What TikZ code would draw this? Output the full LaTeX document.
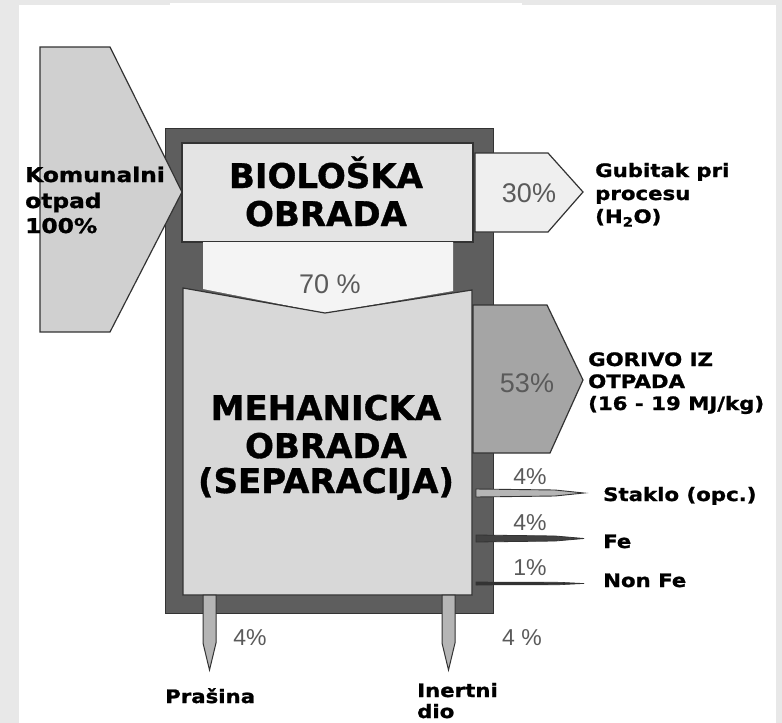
\documentclass[tikz,border=0pt]{standalone}
\usepackage{fontspec}
\setmainfont{DejaVu Sans}
\newfontfamily\lblfont[FakeStretch=1.15,BoldFeatures={FakeBold=1.2}]{DejaVu Sans}
\newfontfamily\ttlfont[BoldFeatures={FakeBold=1}]{DejaVu Sans}
\newfontfamily\pctfont{Liberation Sans}
\definecolor{bggray}{HTML}{E8E8E8}
\definecolor{framegray}{HTML}{5E5E5E}
\definecolor{edgegray}{HTML}{333333}
\definecolor{inputfill}{HTML}{D0D0D0}
\definecolor{biofill}{HTML}{E4E4E4}
\definecolor{mechfill}{HTML}{D8D8D8}
\definecolor{lightflow}{HTML}{F4F4F4}
\definecolor{waterfill}{HTML}{EFEFEF}
\definecolor{fuelfill}{HTML}{A5A5A5}
\definecolor{spikefill}{HTML}{B5B5B5}
\definecolor{pctgray}{HTML}{5A5A5A}
\tikzset{
  shapeedge/.style={draw=edgegray, line width=1.2pt, line join=miter},
  lbl/.style={inner sep=0pt, font=\lblfont\bfseries\fontsize{18.5}{22}\selectfont, text=black, anchor=base west},
  biglbl/.style={lbl, font=\lblfont\bfseries\fontsize{20.3}{24}\selectfont},
  ttl/.style={inner sep=0pt, font=\ttlfont\bfseries\fontsize{34}{40}\selectfont, text=black, anchor=base},
  pct/.style={inner sep=0pt, font=\pctfont\fontsize{27}{30}\selectfont, text=pctgray, anchor=base},
  spct/.style={inner sep=0pt, font=\pctfont\fontsize{23}{26}\selectfont, text=pctgray, anchor=base}
}
\begin{document}
\begin{tikzpicture}[x=1pt,y=-1pt]
\useasboundingbox (0,0) rectangle (782,723);
% background
\fill[bggray] (0,0) rectangle (782,723);
\fill[white] (19,5) rectangle (776,723);
\fill[white] (170,3) rectangle (522,5);
% outer frame
\filldraw[fill=framegray, draw=edgegray, line width=1pt] (165,128) rectangle (493,613);
% input arrow
\filldraw[fill=inputfill, shapeedge] (40,47) -- (110,47) -- (182,192) -- (110,332) -- (40,332) -- cycle;
% biological box
\filldraw[fill=biofill, shapeedge] (182,143) rectangle (473,242);
% 70% flow
\fill[lightflow] (203,242) -- (453,242) -- (453,291) -- (325,313) -- (203,289) -- cycle;
% mechanical box
\filldraw[fill=mechfill, shapeedge] (183,288) -- (325,313) -- (472,290) -- (472,595) -- (183,595) -- cycle;
% 30% output
\filldraw[fill=waterfill, shapeedge] (475,153) -- (548,153) -- (583,192) -- (548,232) -- (475,232) -- cycle;
% 53% output
\filldraw[fill=fuelfill, shapeedge] (473,305) -- (547,305) -- (583,380) -- (550,453) -- (473,453) -- cycle;
% thin outputs
\filldraw[fill=spikefill, draw=edgegray, line width=0.9pt] (476,489) -- (555,490) -- (584,493) -- (555,496) -- (476,497) -- cycle;
\filldraw[fill=framegray!70!black, draw=edgegray, line width=0.8pt] (476,535) -- (555,536) -- (584,538.5) -- (555,541) -- (476,542) -- cycle;
\filldraw[fill=edgegray, draw=edgegray, line width=0.6pt] (476,582) -- (560,582.3) -- (584,583.5) -- (560,584.7) -- (476,585) -- cycle;
% bottom outputs
\filldraw[fill=spikefill, shapeedge, line width=1pt] (203,595) -- (216,595) -- (216,643) -- (209.5,670) -- (203,643) -- cycle;
\filldraw[fill=spikefill, shapeedge, line width=1pt] (442,595) -- (455,595) -- (455,643) -- (448.5,670) -- (442,643) -- cycle;
% texts
\node[biglbl] (kom1) at (25,182) {Komunalni};
\node[biglbl] (kom2) at (25,208) {otpad};
\node[biglbl] (kom3) at (25,233) {100\%};
\node[ttl] (bio1) at (326,188) {BIOLOŠKA};
\node[ttl] (bio2) at (326,226) {OBRADA};
\node[pct] (p70) at (330,293) {70 \%};
\node[ttl] (meh1) at (326,420) {MEHANICKA};
\node[ttl] (meh2) at (326,458) {OBRADA};
\node[ttl] (meh3) at (326,493) {(SEPARACIJA)};
\node[pct] (p30) at (529,202) {30\%};
\node[lbl] (gub1) at (595,177) {Gubitak pri};
\node[lbl] (gub2) at (595,200) {procesu};
\node[lbl] (gub3) at (595,223) {(H\textsubscript{2}O)};
\node[pct] (p53) at (527,392) {53\%};
\node[lbl] (gor1) at (588,366) {GORIVO IZ};
\node[lbl] (gor2) at (588,388) {OTPADA};
\node[lbl] (gor3) at (588,410) {(16 - 19 MJ/kg)};
\node[spct] (p4a) at (530,484) {4\%};
\node[spct] (p4b) at (530,530) {4\%};
\node[spct] (p1) at (530,575) {1\%};
\node[lbl] (sta) at (603,501) {Staklo (opc.)};
\node[lbl] (fe) at (603,548) {Fe};
\node[lbl] (nonfe) at (603,587) {Non Fe};
\node[spct] (p4c) at (250,645) {4\%};
\node[spct] (p4d) at (522,645) {4 \%};
\node[lbl] (pra) at (165,703) {Prašina};
\node[lbl] (ine1) at (417,697) {Inertni};
\node[lbl] (ine2) at (417,718) {dio};
\end{tikzpicture}
\end{document}
